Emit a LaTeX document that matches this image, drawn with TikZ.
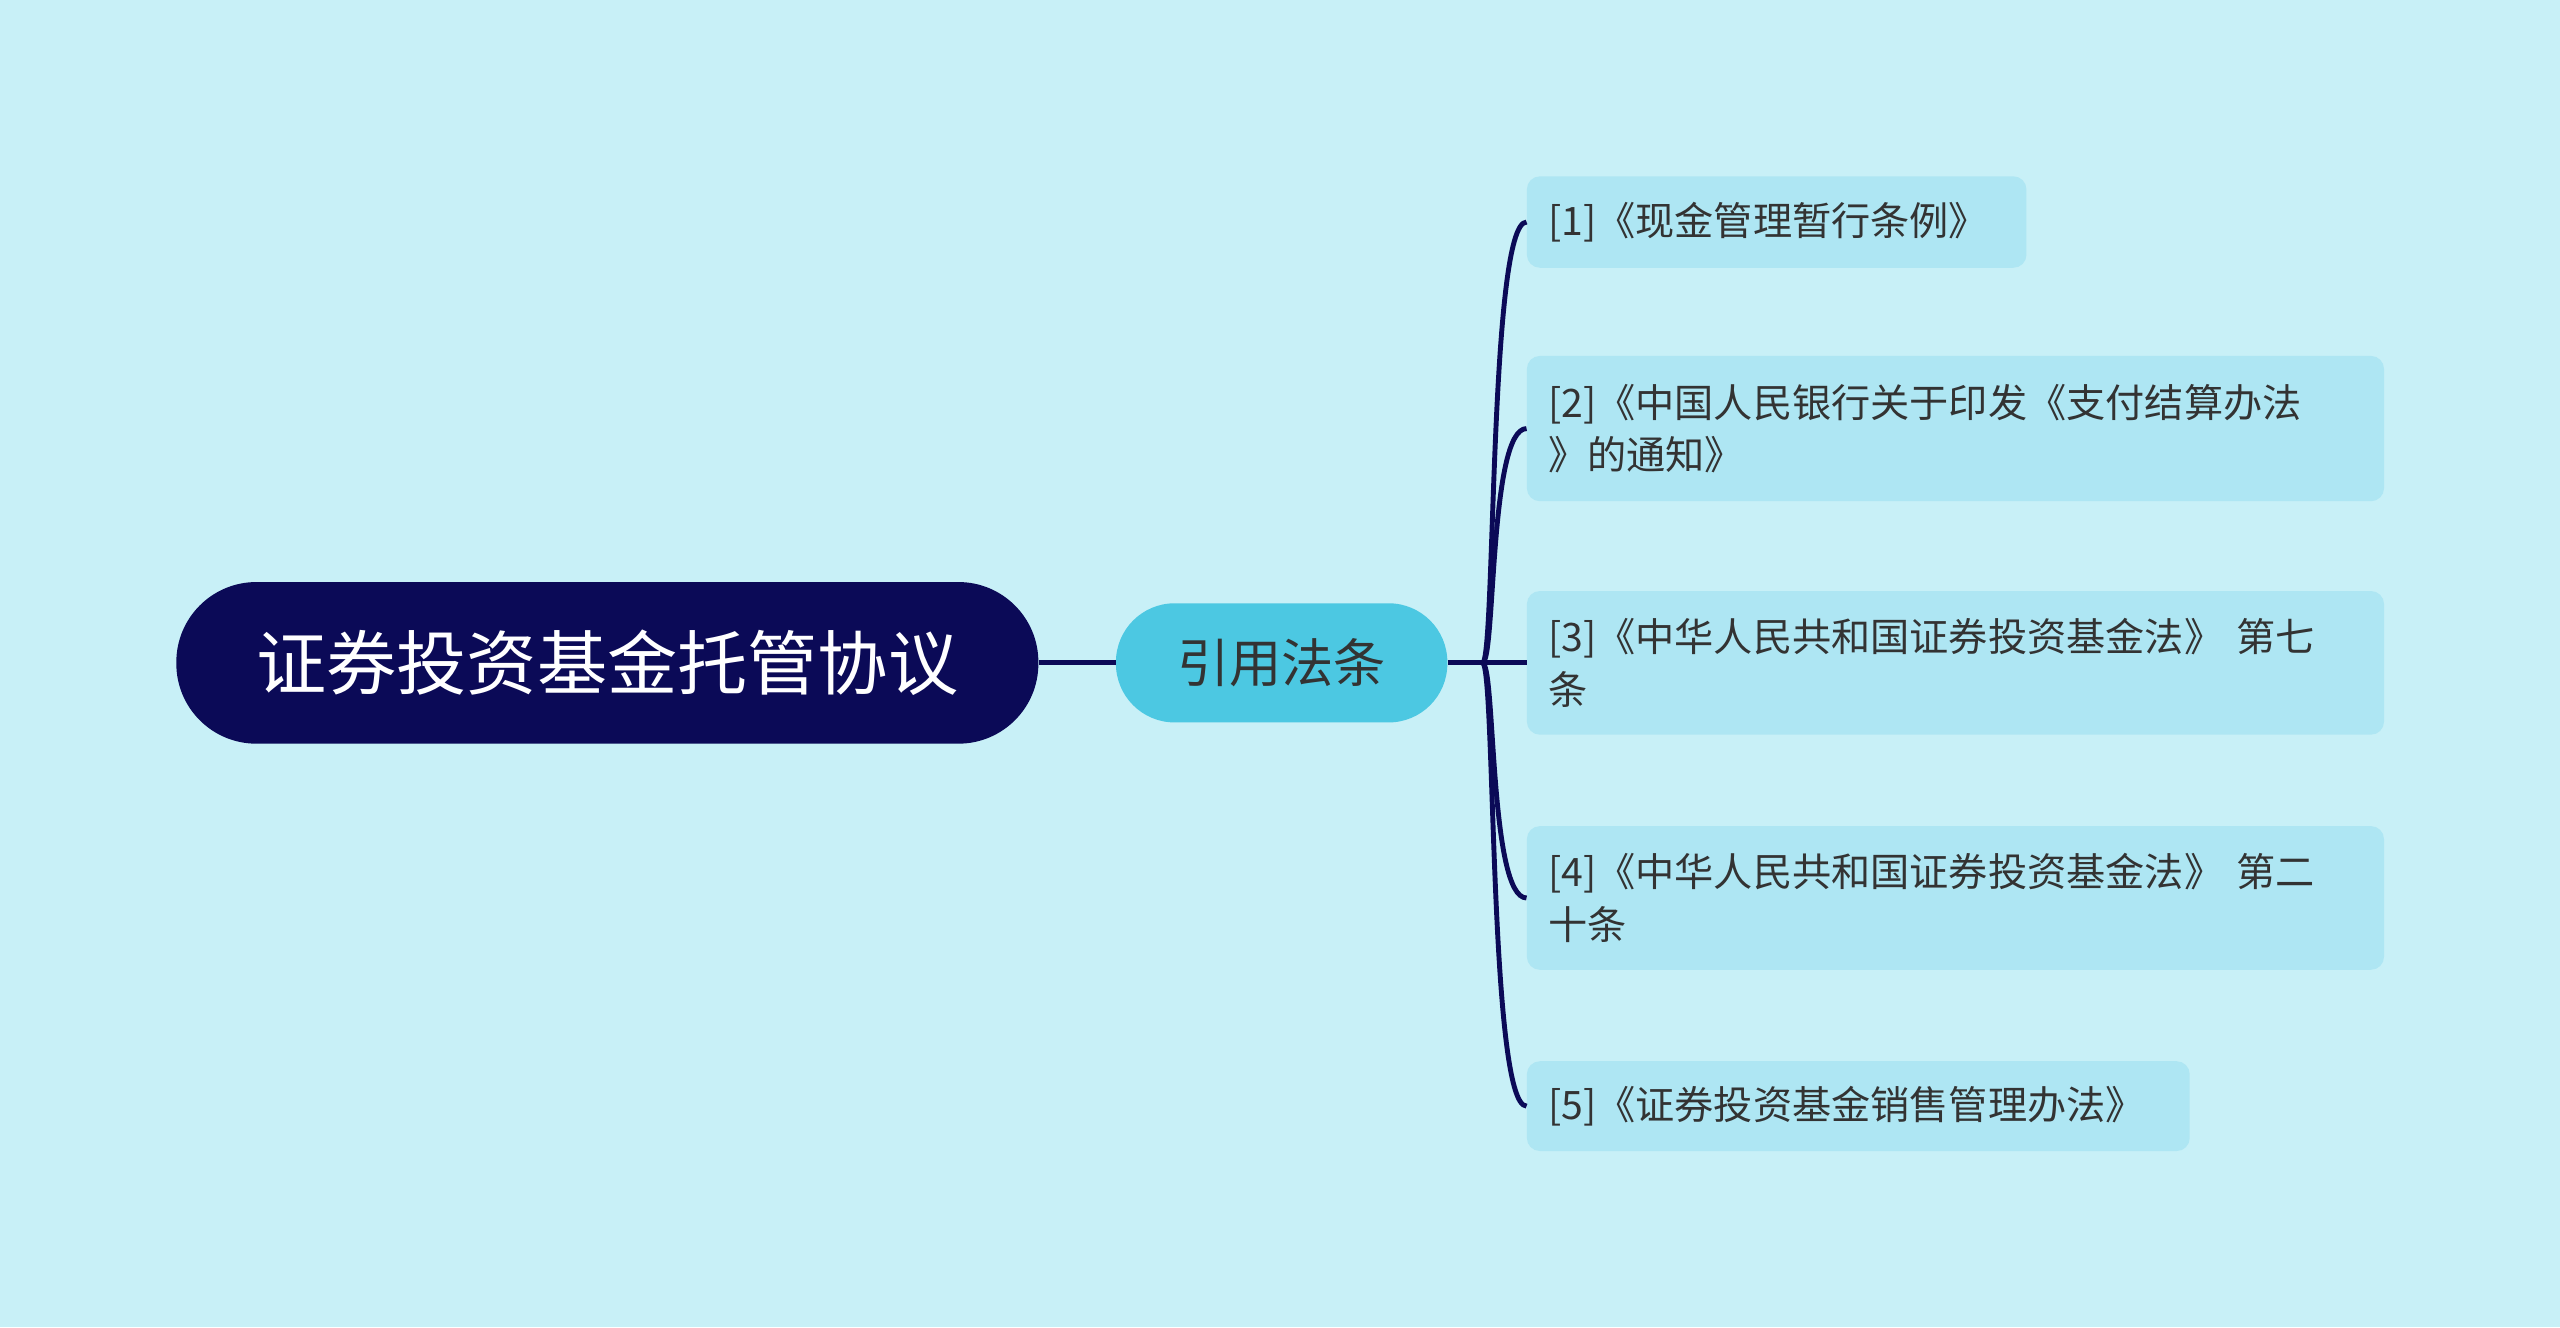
\documentclass[tikz,border=0pt]{standalone}
\usepackage{fontspec}
\setmainfont{Noto Sans CJK SC}
\definecolor{bg}{HTML}{C8F0F7}
\definecolor{navy}{HTML}{0B0A57}
\definecolor{mid}{HTML}{4CC8E2}
\definecolor{leaf}{HTML}{AEE6F3}
\definecolor{txt}{HTML}{333333}
\tikzset{
  leafbox/.style={fill=leaf,rounded corners=8pt,anchor=west,inner xsep=13pt,align=left,text=txt,font=\fontsize{24}{32}\selectfont},
  conn/.style={draw=navy,line width=3pt}
}
\begin{document}
\begin{tikzpicture}[x=1pt,y=-1pt]
\fill[bg] (0,0) rectangle (1568,813);
\useasboundingbox (0,0) rectangle (1568,813);
\node[fill=navy,rounded corners=49pt,minimum width=528pt,minimum height=99pt,text=white,font=\fontsize{43}{50}\selectfont] (root) at (372,406) {证券投资基金托管协议};
\node[fill=mid,rounded corners=36pt,minimum width=203pt,minimum height=73pt,text=txt,font=\fontsize{32}{40}\selectfont] (m) at (785,406) {引用法条};
\node[leafbox,text width=280pt,minimum height=56pt] (c1) at (935,136) {[1]《现金管理暂行条例》};
\node[leafbox,text width=499pt,minimum height=89pt] (c2) at (935,262.5) {[2]《中国人民银行关于印发《支付结算办法\\》的通知》};
\node[leafbox,text width=499pt,minimum height=88pt] (c3) at (935,406) {[3]《中华人民共和国证券投资基金法》 第七\\条};
\node[leafbox,text width=499pt,minimum height=88pt] (c4) at (935,550) {[4]《中华人民共和国证券投资基金法》 第二\\十条};
\node[leafbox,text width=380pt,minimum height=55pt] (c5) at (935,677.5) {[5]《证券投资基金销售管理办法》};
\draw[conn] (root.east) -- (m.west);
\coordinate (j) at (908,406);
\draw[conn] (m.east) -- (j);
\foreach \c in {c1,c2,c3,c4,c5}{
  \draw[conn] (j) .. controls (916,406) and (912,0|-\c.west) .. (\c.west);
}
\end{tikzpicture}
\end{document}
